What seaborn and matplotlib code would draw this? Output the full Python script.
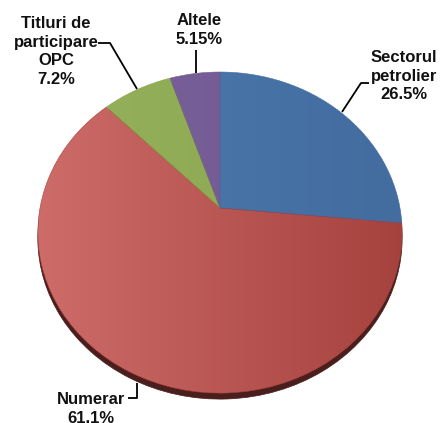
import numpy as np
import matplotlib
matplotlib.use("Agg")
import matplotlib.pyplot as plt
import seaborn as sns
from matplotlib.patches import PathPatch, Polygon
from matplotlib.path import Path
from matplotlib.transforms import Affine2D

# ==========================================
# DATA
# ==========================================
categories = ["Sectorul\npetrolier", "Numerar", "Titluri de\nparticipare\nOPC", "Altele"]
shares = [26.5, 61.1, 7.2, 5.15]
pct_labels = ["26.5%", "61.1%", "7.2%", "5.15%"]

# left (light) -> right (dark) shade of every slice
light_cols = ["#4c7bae", "#cd6c69", "#96b25c", "#7a629c"]
dark_cols = ["#436c9f", "#a6423e", "#8aa34f", "#70578f"]
side_col = "#4a1e1c"

# ==========================================
# LAYOUT (pixels, y pointing down)
# ==========================================
CX, CY = 220, 208      # apex of the slices
R = 180                # horizontal radius
TILT = 0.871           # vertical squash
PERSP = 0.153          # perspective strength (near side bigger)
DEPTH = 6              # pie thickness


def project(xy):
    # unit disk -> tilted disk seen in perspective
    x, y = xy[:, 0], xy[:, 1]
    v = -y
    k = 1.0 / (1.0 - PERSP * v)
    return np.column_stack([CX + R * x * k, CY + R * TILT * v * k])


sns.set_theme(style="white")
plt.rcParams["font.family"] = ["Liberation Sans", "DejaVu Sans"]

fig, ax = plt.subplots(figsize=(4.41, 4.23), dpi=100)
ax.set_position([0, 0, 1, 1])

wedges, _ = ax.pie(shares, startangle=90, counterclock=False,
                   radius=1, center=(0, 0))

polys = []
for w in wedges:
    pts = w.get_path().to_polygons(transform=Affine2D().scale(200))[0] / 200.0
    polys.append(project(pts))
    w.remove()

ax.set_aspect("auto")

# pie thickness (side wall)
for p in polys:
    ax.add_patch(Polygon(p + np.array([0, DEPTH]), closed=True,
                         fc=side_col, ec=side_col, lw=0.5, zorder=1))

# faces with a horizontal shading
x0, x1 = CX - R * 1.02, CX + R * 1.02
t = np.linspace(0, 1, 256)
for p, lc, dc in zip(polys, light_cols, dark_cols):
    c0 = np.array(matplotlib.colors.to_rgb(lc))
    c1 = np.array(matplotlib.colors.to_rgb(dc))
    grad = (c0[None, :] * (1 - t[:, None]) + c1[None, :] * t[:, None])[None, :, :]
    clip = PathPatch(Path(p, closed=True), fc="none", ec="none",
                     transform=ax.transData)
    ax.add_patch(clip)
    im = ax.imshow(grad, extent=(x0, x1, 420, 50), aspect="auto",
                   interpolation="bilinear", zorder=2)
    im.set_clip_path(clip)
    ax.add_patch(Polygon(p, closed=True, fc="none", ec=dc, lw=0.4, zorder=3))

# labels and leader lines
label_pos = [(404, 50), (91, 392), (56, 16), (199, 13)]
leaders = [
    [(342, 112), (361, 83), (369, 83)],
    [(128, 398), (137, 398), (137, 383)],
    [(98, 43), (110, 43), (137, 89)],
    [(196, 50), (196, 73)],
]
for cat, pct, (lx, ly), ld in zip(categories, pct_labels, label_pos, leaders):
    ax.text(lx, ly, f"{cat}\n{pct}", ha="center", va="top", fontsize=12,
            fontweight="bold", color="#111111", linespacing=1.3, zorder=5)
    xs, ys = zip(*ld)
    ax.plot(xs, ys, color="black", lw=1.3, solid_capstyle="butt", zorder=4)

ax.set_xlim(0, 441)
ax.set_ylim(423, 0)
ax.axis("off")

fig.savefig("out.png", dpi=100, facecolor="white")
